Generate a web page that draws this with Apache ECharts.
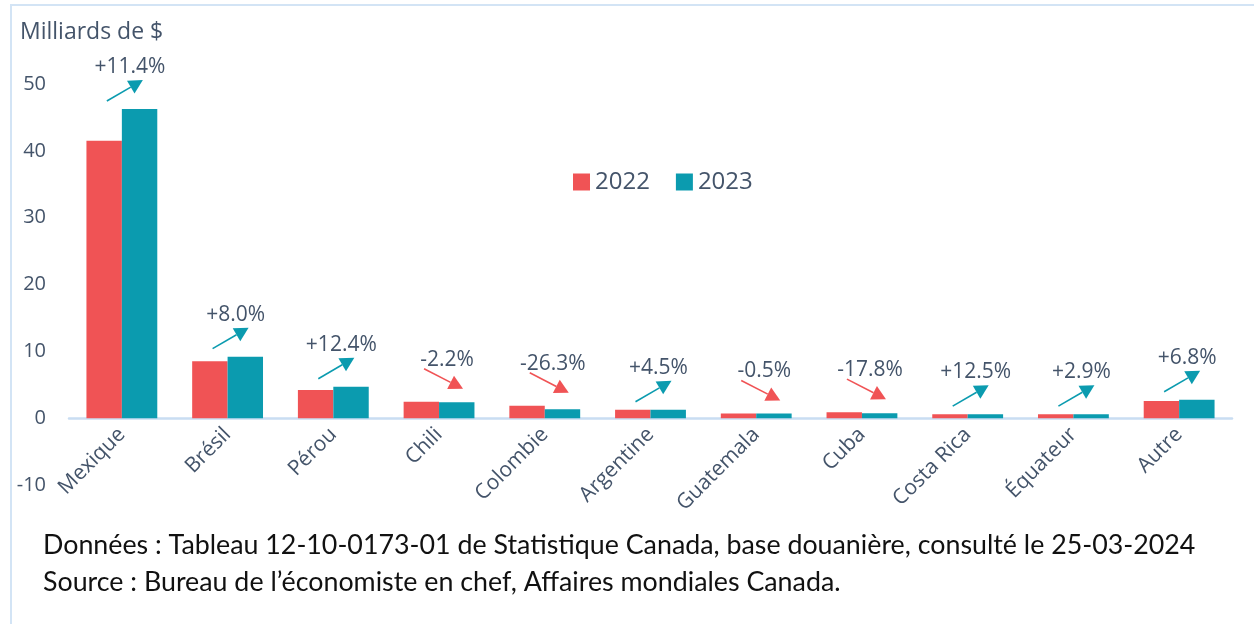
<!DOCTYPE html>
<html>
<head>
<meta charset="utf-8">
<script src="https://cdn.jsdelivr.net/npm/echarts@6/dist/echarts.min.js"></script>
<style>
html, body { margin: 0; padding: 0; background: #fff; }
#chart { width: 1254px; height: 624px; }
</style>
</head>
<body>
<div id="chart"></div>
<script>
// données
var pays = ['Mexique', 'Brésil', 'Pérou', 'Chili', 'Colombie', 'Argentine', 'Guatemala', 'Cuba', 'Costa Rica', 'Équateur', 'Autre'];
var val2022 = [41.5, 8.5, 4.2, 2.45, 1.85, 1.25, 0.7, 0.9, 0.6, 0.6, 2.55];
var val2023 = [46.25, 9.2, 4.7, 2.4, 1.35, 1.25, 0.7, 0.75, 0.6, 0.6, 2.75];
var variation = ['+11.4%', '+8.0%', '+12.4%', '-2.2%', '-26.3%', '+4.5%', '-0.5%', '-17.8%', '+12.5%', '+2.9%', '+6.8%'];
var yTicks = [-10, 0, 10, 20, 30, 40, 50];

var rouge = '#F05355';
var bleu = '#0B9BAF';
var texte = '#44546A';

var fleches = pays.map(function (p, i) {
    return [i, Math.max(val2022[i], val2023[i]), variation[i]];
});

var dom = document.getElementById('chart');
var myChart = echarts.init(dom);

// fleche + pourcentage au-dessus de chaque paire de barres
function renderFleche(params, api) {
    var idx = api.value(0);
    var top = api.coord([idx, api.value(1)]);
    var txt = variation[idx];
    var hausse = txt.charAt(0) === '+';
    var cx = top[0], cy = top[1];
    var sx, sy, tx, ty, col;
    if (hausse) {
        sx = cx - 15; sy = cy - 8;
        tx = cx + 21; ty = cy - 29;
        col = bleu;
    } else {
        sx = cx - 15; sy = cy - 33;
        tx = cx + 24; ty = cy - 13;
        col = rouge;
    }
    var dx = tx - sx, dy = ty - sy;
    var len = Math.sqrt(dx * dx + dy * dy);
    var ux = dx / len, uy = dy / len;
    var hl = 14, hw = 7.5;
    var bx = tx - ux * hl, by = ty - uy * hl;
    var px = -uy, py = ux;
    return {
        type: 'group',
        children: [
            {
                type: 'line',
                shape: { x1: sx, y1: sy, x2: bx, y2: by },
                style: { stroke: col, lineWidth: 1.6 }
            },
            {
                type: 'polygon',
                shape: { points: [[tx, ty], [bx + px * hw, by + py * hw], [bx - px * hw, by - py * hw]] },
                style: { fill: col }
            },
            {
                type: 'text',
                x: cx + 8,
                y: cy - 42,
                style: {
                    text: txt,
                    fill: texte,
                    font: '21px "Open Sans"',
                    align: 'center',
                    verticalAlign: 'middle'
                }
            }
        ]
    };
}

option = {
    animation: false,
    textStyle: { fontFamily: 'Open Sans', color: texte },
    graphic: [
        {
            type: 'rect',
            shape: { x: 11, y: 5, width: 1300, height: 700 },
            style: { fill: 'none', stroke: '#D3E4F5', lineWidth: 2 },
            z: -1
        },
        {
            type: 'text',
            left: 20,
            top: 21,
            style: { text: 'Milliards de $', fill: texte, font: '23px "Open Sans"' }
        },
        {
            type: 'text',
            left: 43,
            top: 527,
            style: {
                text: 'Données : Tableau 12-10-0173-01 de Statistique Canada, base douanière, consulté le 25-03-2024\nSource : Bureau de l\u2019économiste en chef, Affaires mondiales Canada.',
                fill: '#111',
                font: '26.8px Lato',
                lineHeight: 37
            }
        }
    ],
    legend: {
        data: ['2022', '2023'],
        left: 568,
        top: 165,
        icon: 'rect',
        itemWidth: 17,
        itemHeight: 17,
        itemGap: 26,
        textStyle: { fontSize: 24, color: texte, fontFamily: 'Open Sans' }
    },
    grid: { left: 69, right: 22, top: 84, bottom: 139, containLabel: false },
    xAxis: {
        type: 'category',
        data: pays,
        offset: -66.8,
        axisLine: { onZero: false, lineStyle: { color: '#C9DDF2', width: 2.5 } },
        axisTick: { show: false },
        axisLabel: {
            rotate: 45,
            fontSize: 21,
            color: texte,
            margin: 13,
            interval: 0
        }
    },
    yAxis: {
        type: 'value',
        min: yTicks[0],
        max: yTicks[yTicks.length - 1],
        interval: 10,
        axisLine: { show: false },
        axisTick: { show: false },
        splitLine: { show: false },
        axisLabel: { fontSize: 20, color: texte, margin: 23 }
    },
    series: [
        {
            name: '2022',
            type: 'bar',
            data: val2022,
            barGap: '0%',
            barCategoryGap: '33%',
            itemStyle: { color: rouge }
        },
        {
            name: '2023',
            type: 'bar',
            data: val2023,
            itemStyle: { color: bleu }
        },
        {
            type: 'custom',
            renderItem: renderFleche,
            data: fleches,
            silent: true,
            z: 5
        }
    ]
};

if (option && typeof option === "object") {
    myChart.setOption(option, true);
}
</script>
</body>
</html>
